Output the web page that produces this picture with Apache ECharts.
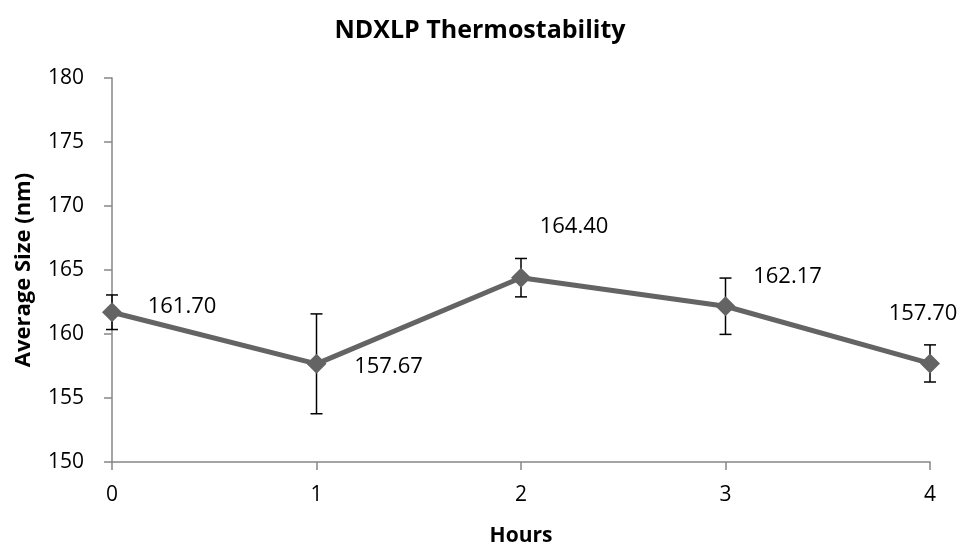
<!DOCTYPE html>
<html>
<head>
<meta charset="utf-8">
<script src="https://cdn.jsdelivr.net/npm/echarts@6/dist/echarts.min.js"></script>
<style>html,body{margin:0;padding:0;background:#fff}#c{width:966px;height:552px}</style>
</head>
<body>
<div id="c"></div>
<script>
const hours = [0, 1, 2, 3, 4];
const avgSize = [161.70, 157.67, 164.40, 162.17, 157.70];
const errSize = [1.35, 3.9, 1.5, 2.2, 1.45];
const yTicks = [150, 155, 160, 165, 170, 175, 180];
const labelOffsets = [[70, -6], [72, 3], [53, -51], [62, -29], [-7, -50]];

const FONT = '"Open Sans", sans-serif';
const chart = echarts.init(document.getElementById('c'));

const lineData = hours.map((h, i) => ({
  value: [h, avgSize[i]],
  label: { offset: labelOffsets[i] }
}));
const errData = hours.map((h, i) => [h, avgSize[i] - errSize[i], avgSize[i] + errSize[i]]);

chart.setOption({
  animation: false,
  title: {
    text: 'NDXLP Thermostability',
    left: 475, top: 13, textAlign: 'center',
    textStyle: { fontFamily: FONT, fontWeight: 'bold', fontSize: 25, color: '#000' }
  },
  grid: { left: 112, right: 36, top: 78, bottom: 90 },
  xAxis: {
    type: 'value', min: 0, max: 4, interval: 1,
    name: 'Hours', nameLocation: 'middle', nameGap: 64,
    nameTextStyle: { fontFamily: FONT, fontWeight: 'bold', fontSize: 21, color: '#000' },
    axisLine: { show: true, lineStyle: { color: '#868686', width: 1.5 } },
    axisTick: { show: true, length: 8, lineStyle: { color: '#868686', width: 1.5 } },
    axisLabel: { fontFamily: FONT, fontSize: 21, color: '#000', margin: 23 },
    splitLine: { show: false }
  },
  yAxis: {
    type: 'value', min: yTicks[0], max: yTicks[yTicks.length - 1], interval: 5,
    name: 'Average Size (nm)', nameLocation: 'middle', nameGap: 77, nameRotate: 90,
    nameTextStyle: { fontFamily: FONT, fontWeight: 'bold', fontSize: 22, color: '#000' },
    axisLine: { show: true, lineStyle: { color: '#868686', width: 1.5 } },
    axisTick: { show: true, length: 8, lineStyle: { color: '#868686', width: 1.5 } },
    axisLabel: { fontFamily: FONT, fontSize: 21, color: '#000', margin: 28, padding: [6, 0, 0, 0] },
    splitLine: { show: false }
  },
  series: [
    {
      type: 'custom',
      data: errData,
      z: 3,
      renderItem: function (params, api) {
        const x = api.value(0);
        const lo = api.coord([x, api.value(1)]);
        const hi = api.coord([x, api.value(2)]);
        const w = 6;
        const st = { stroke: '#000', lineWidth: 1.5 };
        return {
          type: 'group',
          children: [
            { type: 'line', shape: { x1: lo[0], y1: lo[1], x2: hi[0], y2: hi[1] }, style: st },
            { type: 'line', shape: { x1: lo[0] - w, y1: lo[1], x2: lo[0] + w, y2: lo[1] }, style: st },
            { type: 'line', shape: { x1: hi[0] - w, y1: hi[1], x2: hi[0] + w, y2: hi[1] }, style: st }
          ]
        };
      }
    },
    {
      type: 'line',
      data: lineData,
      z: 4,
      symbol: 'diamond',
      symbolSize: 20,
      lineStyle: { color: '#646464', width: 5 },
      itemStyle: { color: '#646464' },
      label: {
        show: true, position: 'inside',
        fontFamily: FONT, fontSize: 22, color: '#000',
        formatter: p => p.value[1].toFixed(2)
      }
    }
  ]
});
</script>
</body>
</html>
